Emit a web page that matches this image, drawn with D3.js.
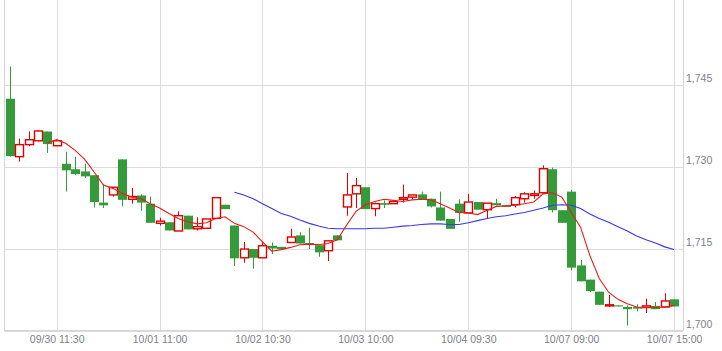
<!DOCTYPE html>
<html>
<head>
<meta charset="utf-8">
<script src="https://cdn.jsdelivr.net/npm/d3@7"></script>
<style>
  body { margin: 0; background: #fff; }
  #chart text { font-family: "Liberation Sans", Arial, sans-serif; font-size: 10.5px; fill: #80808a; }
</style>
</head>
<body>
<div id="chart"></div>
<script>
// 30 minute candles, 72 bars
let open = [1742.4,1731.8,1734.0,1734.7,1736.4,1733.8,1730.5,1729.5,1729.1,1728.4,
  1723.4,1724.8,1731.3,1724.0,1724.7,1723.2,1719.6,1719.8,1718.2,1721.0,
  1718.6,1718.7,1720.5,1723.0,1719.2,1713.3,1714.9,1713.3,1715.5,1715.3,
  1716.1,1717.4,1716.0,1715.6,1714.6,1717.4,1722.6,1725.0,1726.2,1722.3,
  1723.3,1723.2,1724.0,1724.4,1724.9,1724.1,1722.5,1720.4,1723.2,1721.5,
  1723.5,1722.1,1723.3,1722.9,1723.0,1724.1,1724.7,1725.2,1729.5,1722.0,
  1725.4,1711.9,1709.3,1707.1,1704.5,1704.6,1704.3,1704.3,1704.2,1704.5,
  1704.3,1705.7];
let close = [1731.9,1734.0,1734.9,1736.5,1734.1,1734.7,1729.3,1728.6,1728.2,1723.5,
  1722.9,1726.2,1723.9,1724.5,1723.4,1719.7,1720.0,1718.3,1721.0,1718.5,
  1719.0,1720.4,1724.3,1722.2,1713.2,1714.9,1713.3,1715.5,1715.0,1714.9,
  1717.1,1715.9,1715.7,1714.3,1716.4,1716.5,1724.8,1726.5,1722.2,1723.2,
  1723.0,1723.6,1724.3,1724.8,1723.9,1722.7,1720.1,1718.6,1721.5,1723.5,
  1722.1,1723.3,1722.9,1722.6,1724.3,1725.0,1725.0,1729.6,1722.0,1719.7,
  1711.5,1709.0,1707.2,1704.7,1704.7,1704.4,1703.9,1704.0,1704.5,1703.9,
  1705.4,1704.4];
let high = [1748.3,1735.1,1736.4,1736.6,1736.4,1734.9,1732.7,1731.8,1730.5,1728.4,
  1726.8,1726.2,1731.3,1726.1,1724.9,1724.5,1720.6,1719.8,1721.8,1721.0,
  1720.7,1720.4,1724.3,1723.0,1719.2,1716.2,1714.9,1716.3,1716.1,1715.3,
  1718.6,1718.0,1718.8,1715.6,1716.4,1717.4,1728.8,1727.9,1726.2,1723.4,
  1723.8,1723.6,1726.7,1724.8,1725.4,1724.1,1725.4,1720.4,1724.0,1725.0,
  1723.5,1723.3,1724.1,1722.9,1724.6,1725.3,1725.6,1730.2,1729.8,1722.0,
  1725.7,1712.9,1709.3,1707.1,1706.5,1704.6,1704.6,1704.8,1705.8,1705.2,
  1706.8,1705.7];
let low = [1731.8,1730.9,1733.7,1734.6,1732.5,1733.8,1725.4,1728.4,1727.9,1722.5,
  1722.4,1724.5,1722.7,1723.2,1721.9,1719.7,1719.2,1718.3,1718.2,1718.5,
  1718.3,1718.7,1720.5,1722.2,1711.8,1712.4,1711.3,1713.3,1714.0,1714.9,
  1716.1,1715.9,1714.9,1713.5,1712.7,1716.5,1721.0,1722.4,1722.2,1720.9,
  1722.4,1723.2,1723.4,1724.0,1723.9,1722.5,1720.1,1718.6,1719.9,1721.5,
  1722.1,1720.4,1722.9,1722.6,1722.5,1723.4,1724.1,1725.2,1721.6,1719.7,
  1711.0,1709.0,1707.0,1704.7,1704.3,1704.4,1700.9,1703.5,1703.2,1703.9,
  1704.3,1704.4];

// moving averages
let maShort = [null,null,null,null,1734.3,1734.9,1734.2,1732.9,1731.3,1729.0,
  1726.6,1726.0,1725.1,1724.4,1724.1,1723.2,1722.4,1721.4,1720.5,1719.9,
  1719.5,1719.7,1720.5,1720.8,1719.6,1719.0,1718.0,1716.2,1714.5,1714.8,
  1715.2,1715.7,1715.8,1715.7,1715.9,1716.6,1719.3,1721.8,1723.0,1723.6,
  1724.0,1723.8,1723.6,1723.9,1724.0,1723.9,1723.2,1722.4,1721.6,1721.5,
  1721.2,1722.0,1722.7,1722.8,1722.9,1723.2,1723.5,1725.0,1725.2,1724.4,
  1721.6,1718.9,1713.7,1709.5,1707.0,1705.7,1704.9,1704.3,1704.2,1704.2,
  1704.3,1704.6];
let maLong = [null,null,null,null,null,null,null,null,null,null,
  null,null,null,null,null,null,null,null,null,null,
  null,null,null,null,1725.3,1724.8,1724.1,1723.2,1722.3,1721.4,
  1720.9,1720.2,1719.6,1719.1,1718.7,1718.6,1718.6,1718.6,1718.6,1718.7,
  1718.7,1718.9,1719.1,1719.2,1719.4,1719.5,1719.5,1719.4,1719.4,1719.7,
  1720.1,1720.5,1720.8,1721.0,1721.3,1721.6,1722.0,1722.4,1722.9,1723.0,
  1722.9,1722.3,1721.3,1720.5,1719.8,1719.0,1718.2,1717.3,1716.6,1716.0,
  1715.3,1714.8];

let xTickIdx = [5, 16, 27, 38, 49, 60, 71];
let xTickLabels = ['09/30 11:30', '10/01 11:00', '10/02 10:30', '10/03 10:00', '10/04 09:30', '10/07 09:00', '10/07 15:00'];
let yTicks = [1700, 1715, 1730, 1745];

let width = 722, height = 351,
    plot = {left: 4, right: 683, top: 0, bottom: 331};

let svg = d3.select('#chart').append('svg')
    .attr('width', width)
    .attr('height', height);

let xScale = d3.scalePoint()
    .domain(d3.range(open.length))
    .range([9.9, 674.1]);

let yScale = d3.scaleLinear()
    .domain([1700, 1745])
    .range([330.5, 84.5]);

let px = i => Math.round(xScale(i)) + 0.5;

// grid
let grid_g = svg.append('g').attr('class', 'grid');
grid_g.selectAll('line.h')
    .data(yTicks)
    .join('line')
    .attr('class', 'h')
    .attr('x1', plot.left).attr('x2', plot.right)
    .attr('y1', d => Math.round(yScale(d)) + 0.5)
    .attr('y2', d => Math.round(yScale(d)) + 0.5)
    .attr('stroke', '#dcdcdc');
grid_g.selectAll('line.v')
    .data(xTickIdx)
    .join('line')
    .attr('class', 'v')
    .attr('x1', d => px(d)).attr('x2', d => px(d))
    .attr('y1', plot.top).attr('y2', plot.bottom)
    .attr('stroke', '#dcdcdc');
grid_g.append('path')
    .attr('d', `M${plot.left + 0.5},${plot.top}V${plot.bottom - 0.5}H${plot.right + 0.5}V${plot.top}`)
    .attr('fill', 'none')
    .attr('stroke', '#d4d4d4');

// axes labels
let yAxis = svg.append('g')
    .attr('transform', `translate(${plot.right + 3}, 0)`)
    .call(d3.axisRight(yScale).tickValues(yTicks).tickSize(0).tickFormat(d3.format(',')));
yAxis.select('.domain').remove();
yAxis.selectAll('text').attr('dy', '-0.32em').attr('x', 0);

let xAxis = svg.append('g')
    .attr('transform', `translate(0, ${plot.bottom})`)
    .call(d3.axisBottom(xScale).tickValues(xTickIdx).tickSize(0)
        .tickFormat(d => xTickLabels[xTickIdx.indexOf(d)]));
xAxis.select('.domain').remove();
xAxis.selectAll('text').attr('dy', '0.95em').attr('y', 2);
svg.selectAll('.tick text').attr('fill', null);

// candles
let green = '#349a3a', red = '#e00000';
let candles = svg.append('g').attr('class', 'candles')
    .selectAll('g')
    .data(d3.range(open.length))
    .join('g');

candles.append('line')
    .attr('x1', i => px(i)).attr('x2', i => px(i))
    .attr('y1', i => yScale(high[i]))
    .attr('y2', i => yScale(low[i]))
    .attr('stroke', i => close[i] >= open[i] ? red : green);

candles.append('rect')
    .attr('x', i => close[i] >= open[i] ? px(i) - 4 : px(i) - 4.5)
    .attr('width', i => close[i] >= open[i] ? 8 : 9)
    .attr('y', i => yScale(Math.max(open[i], close[i])))
    .attr('height', i => Math.max(1, Math.abs(yScale(open[i]) - yScale(close[i]))))
    .attr('fill', i => close[i] >= open[i] ? '#fff' : green)
    .attr('stroke', i => close[i] >= open[i] ? red : 'none')
    .attr('stroke-width', 1.4);

// moving averages
let line = d3.line()
    .defined(d => d[1] != null)
    .x(d => xScale(d[0]))
    .y(d => yScale(d[1]));

svg.append('path')
    .datum(maLong.map((v, i) => [i, v]))
    .attr('d', line)
    .attr('fill', 'none')
    .attr('stroke', '#3838f0')
    .attr('stroke-width', 1.1);

svg.append('path')
    .datum(maShort.map((v, i) => [i, v]))
    .attr('d', line)
    .attr('fill', 'none')
    .attr('stroke', '#f01818')
    .attr('stroke-width', 1.1);
</script>
</body>
</html>
